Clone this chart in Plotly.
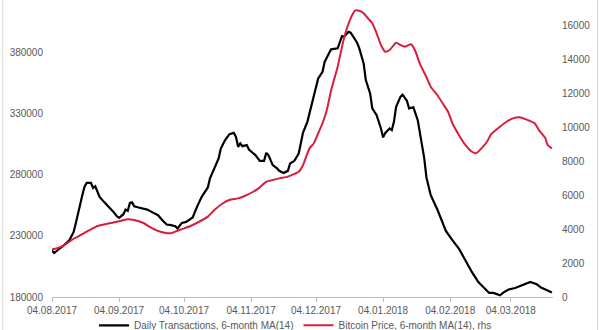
import plotly.graph_objects as go

tx_dates = ["2017-08-04","2017-08-05","2017-08-07","2017-08-09","2017-08-12","2017-08-14","2017-08-15","2017-08-16","2017-08-17","2017-08-18",
"2017-08-19","2017-08-20","2017-08-22","2017-08-23","2017-08-24","2017-08-25","2017-08-26","2017-08-28","2017-08-30","2017-09-01",
"2017-09-03","2017-09-04","2017-09-06","2017-09-07","2017-09-08","2017-09-09","2017-09-10","2017-09-11","2017-09-13","2017-09-15",
"2017-09-17","2017-09-19","2017-09-22","2017-09-24","2017-09-26","2017-09-28","2017-09-30","2017-10-01","2017-10-03","2017-10-05",
"2017-10-08","2017-10-10","2017-10-12","2017-10-15","2017-10-16","2017-10-18","2017-10-20","2017-10-21","2017-10-23","2017-10-25",
"2017-10-27","2017-10-28","2017-10-29","2017-10-30","2017-10-31","2017-11-02","2017-11-03","2017-11-06","2017-11-08","2017-11-10",
"2017-11-11","2017-11-12","2017-11-14","2017-11-16","2017-11-17","2017-11-19","2017-11-21","2017-11-22","2017-11-24","2017-11-26",
"2017-11-27","2017-11-28","2017-11-30","2017-12-01","2017-12-03","2017-12-05","2017-12-07","2017-12-08","2017-12-10","2017-12-11",
"2017-12-14","2017-12-15","2017-12-16","2017-12-17","2017-12-19","2017-12-20","2017-12-22","2017-12-23","2017-12-24","2017-12-26",
"2017-12-27","2017-12-29","2017-12-30","2018-01-01","2018-01-03","2018-01-04","2018-01-05","2018-01-07","2018-01-08","2018-01-09",
"2018-01-10","2018-01-12","2018-01-13","2018-01-15","2018-01-16","2018-01-18","2018-01-20","2018-01-21","2018-01-23","2018-01-24",
"2018-01-26","2018-01-29","2018-01-31","2018-02-02","2018-02-05","2018-02-08","2018-02-11","2018-02-14","2018-02-17","2018-02-20",
"2018-02-22","2018-02-24","2018-02-27","2018-03-01","2018-03-03","2018-03-06","2018-03-08","2018-03-11","2018-03-13","2018-03-16",
"2018-03-18","2018-03-20","2018-03-23"]
tx_values = [218000,216000,218900,221600,226500,233300,240400,248600,255200,263400,
270200,273400,273400,269300,270700,266900,262000,257900,254300,250500,
246100,244800,247800,251600,250500,257000,257600,254300,253300,252500,
251600,249700,247000,242900,239300,238800,238000,236100,240700,241500,
245100,253800,261500,269700,277100,285300,293500,301600,308500,313400,
314400,311200,303000,305700,303500,304400,300800,296200,291500,291500,
298000,296200,288000,285300,283300,281600,283300,289300,291500,297500,
307100,314600,323400,330300,345300,359000,364400,372600,379500,382800,
383600,389000,393700,393100,397200,396400,390400,388200,383600,371300,
357600,346700,334400,328900,318000,310700,314400,318000,316600,323400,
335700,343900,345700,340700,334400,335300,324800,313400,293700,278100,
263400,251900,242900,234100,226500,219700,210100,200500,192300,186900,
183300,183300,181400,184100,186100,187400,188800,191500,192300,190400,
187700,186100,183600]

px_dates = ["2017-08-04","2017-08-06","2017-08-09","2017-08-11","2017-08-13","2017-08-16","2017-08-19","2017-08-22","2017-08-25","2017-08-29",
"2017-09-01","2017-09-05","2017-09-08","2017-09-11","2017-09-15","2017-09-18","2017-09-21","2017-09-25","2017-09-28","2017-10-01",
"2017-10-04","2017-10-07","2017-10-11","2017-10-15","2017-10-18","2017-10-22","2017-10-25","2017-10-29","2017-11-01","2017-11-05",
"2017-11-08","2017-11-11","2017-11-14","2017-11-17","2017-11-21","2017-11-24","2017-11-26","2017-11-28","2017-11-30","2017-12-01",
"2017-12-03","2017-12-05","2017-12-07","2017-12-09","2017-12-11","2017-12-14","2017-12-16","2017-12-18","2017-12-20","2017-12-22",
"2017-12-24","2017-12-26","2017-12-28","2017-12-30","2018-01-01","2018-01-03","2018-01-05","2018-01-07","2018-01-10","2018-01-12",
"2018-01-14","2018-01-17","2018-01-19","2018-01-21","2018-01-24","2018-01-26","2018-01-29","2018-02-01","2018-02-03","2018-02-05",
"2018-02-08","2018-02-11","2018-02-14","2018-02-16","2018-02-18","2018-02-21","2018-02-23","2018-02-27","2018-03-02","2018-03-05",
"2018-03-08","2018-03-11","2018-03-15","2018-03-17","2018-03-20","2018-03-21","2018-03-23"]
px_values = [2810,2870,3010,3170,3360,3560,3790,3990,4190,4310,
4380,4500,4580,4540,4380,4150,3950,3790,3760,3910,
4050,4190,4440,4740,5130,5530,5720,5820,5960,6210,
6470,6800,6900,7000,7100,7260,7390,7790,8480,8770,
9070,9660,10250,11030,12210,13590,14770,15750,16440,16890,
16890,16740,16440,16150,15560,14870,14470,14570,15000,14870,
14770,14910,14470,13750,12980,12410,11920,11330,10930,10250,
9560,8970,8570,8480,8710,9160,9620,10050,10340,10540,
10600,10480,10250,9850,9360,8970,8770]

left_ticks = [180000, 230000, 280000, 330000, 380000]
right_ticks = [0, 2000, 4000, 6000, 8000, 10000, 12000, 14000, 16000]
x_ticks = ["2017-08-04","2017-09-04","2017-10-04","2017-11-04","2017-12-04","2018-01-04","2018-02-04","2018-03-04"]
x_labels = ["04.08.2017","04.09.2017","04.10.2017","04.11.2017","04.12.2017","04.01.2018","04.02.2018","04.03.2018"]

grey = "#595959"
font = dict(family="Liberation Sans, Arial, sans-serif", size=10, color=grey)

fig = go.Figure()
fig.add_trace(go.Scatter(x=tx_dates, y=tx_values, mode="lines",
                         name="Daily Transactions, 6-month MA(14)",
                         line=dict(color="#000000", width=2.2)))
fig.add_trace(go.Scatter(x=px_dates, y=px_values, mode="lines", yaxis="y2",
                         name="Bitcoin Price, 6-month MA(14), rhs",
                         line=dict(color="#d81e3c", width=2, shape="spline", smoothing=0.5)))

fig.update_layout(
    width=600, height=330,
    margin=dict(l=52, r=47, t=0, b=33, autoexpand=False),
    paper_bgcolor="white", plot_bgcolor="white",
    font=font,
    showlegend=True,
    legend=dict(orientation="h", x=0.486, xanchor="center",
                yref="container", y=0.058, yanchor="top",
                font=dict(size=10, color=grey), bgcolor="rgba(0,0,0,0)",
                itemwidth=30, tracegroupgap=0),
    xaxis=dict(type="date", range=["2017-08-04", "2018-03-23 12:00"],
               tickvals=x_ticks, ticktext=x_labels,
               showgrid=False, zeroline=False,
               showline=True, linecolor="#bfbfbf", linewidth=1,
               ticks="outside", ticklen=4, tickcolor="#bfbfbf",
               tickfont=font),
    yaxis=dict(range=[180000, 423200], tickvals=left_ticks, tickformat="d",
               showgrid=False, zeroline=False, showline=False,
               ticks="", ticklabelstandoff=8, tickfont=font),
    yaxis2=dict(range=[0, 17523], tickvals=right_ticks, tickformat="d",
                overlaying="y", side="right",
                showgrid=False, zeroline=False, showline=False,
                ticks="", ticklabelstandoff=8, tickfont=font),
    shapes=[
        dict(type="line", xref="paper", yref="paper", x0=-0.0984, x1=-0.0984, y0=-0.2, y1=1.05,
             line=dict(color="#d9d9d9", width=1)),
        dict(type="line", xref="paper", yref="paper", x0=1.0888, x1=1.0888, y0=-0.2, y1=1.05,
             line=dict(color="#d9d9d9", width=1)),
    ],
)

fig.write_html("out.html")
